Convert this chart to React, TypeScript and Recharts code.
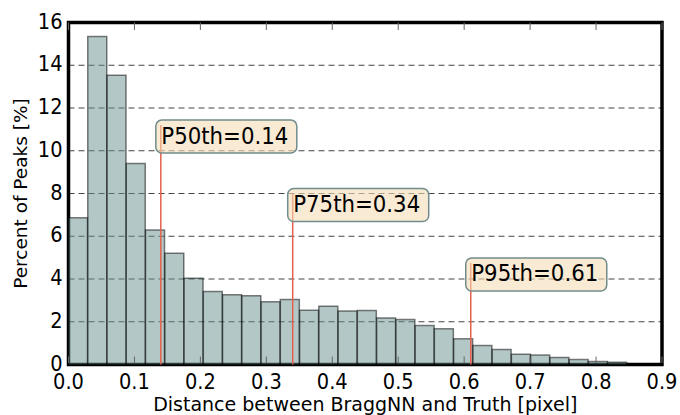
import React from "react";
import * as Recharts from "recharts";
import {
  ComposedChart,
  Bar,
  XAxis,
  YAxis,
  CartesianGrid,
  ReferenceLine,
  ReferenceDot,
} from "recharts";

// histogram bins (centre of each bin, pixel distance)
const binCenters = [
  0.0146, 0.0438, 0.073, 0.1022, 0.1314, 0.1606, 0.1898, 0.219, 0.2482, 0.2774,
  0.3066, 0.3358, 0.365, 0.3942, 0.4234, 0.4526, 0.4818, 0.511, 0.5402, 0.5694,
  0.5986, 0.6278, 0.657, 0.6862, 0.7154, 0.7446, 0.7738, 0.803, 0.8322,
];

// percent of peaks in each bin
const percentOfPeaks = [
  6.87, 15.35, 13.53, 9.4, 6.29, 5.21, 4.03, 3.41, 3.26, 3.22, 2.94, 3.04, 2.54,
  2.73, 2.5, 2.53, 2.18, 2.1, 1.82, 1.67, 1.2, 0.89, 0.7, 0.48, 0.44, 0.33, 0.23,
  0.14, 0.11,
];

const xTicks = [0, 0.1, 0.2, 0.3, 0.4, 0.5, 0.6, 0.7, 0.8, 0.9];
const yTicks = [0, 2, 4, 6, 8, 10, 12, 14, 16];

const percentileNames = ["P50th", "P75th", "P95th"];
const percentileValues = [0.14, 0.34, 0.61];
const markerHeights = [11.2, 8.0, 4.75];

const chartData = binCenters.map((x, i) => ({ x, pct: percentOfPeaks[i] }));

const FONT = "'DejaVu Sans', sans-serif";

function BottomTick(props: any) {
  const { x, y, payload } = props;
  return (
    <g>
      <line x1={x} x2={x} y1={y - 1.5} y2={y - 8} stroke="#666" strokeWidth={1} />
      <text
        transform={`translate(${x} ${y + 24}) scale(0.97 1.07)`}
        textAnchor="middle"
        fontSize={20}
        fontFamily={FONT}
        fill="#000"
      >
        {Number(payload.value).toFixed(1)}
      </text>
    </g>
  );
}

function LeftTick(props: any) {
  const { x, y, payload } = props;
  return (
    <text
      transform={`translate(${x} ${y + 6}) scale(0.97 1.07)`}
      textAnchor="end"
      fontSize={20}
      fontFamily={FONT}
      fill="#000"
    >
      {payload.value}
    </text>
  );
}

function XLabel(props: any) {
  const { x, y, width } = props.viewBox;
  return (
    <text
      x={x + width / 2}
      y={y + 46}
      textAnchor="middle"
      fontSize={19}
      fontFamily={FONT}
      fill="#000"
    >
      Distance between BraggNN and Truth [pixel]
    </text>
  );
}

function YLabel(props: any) {
  const { x, y, height } = props.viewBox;
  const cx = x + 27;
  const cy = y + height / 2;
  return (
    <text
      x={cx}
      y={cy}
      transform={`rotate(-90 ${cx} ${cy})`}
      textAnchor="middle"
      fontSize={18.5}
      fontFamily={FONT}
      fill="#000"
    >
      Percent of Peaks [%]
    </text>
  );
}

// heavy black box round the plot area (matplotlib style spines)
function PlotFrame() {
  const usePlotArea = (Recharts as any).usePlotArea || (Recharts as any).useOffset;
  const area = usePlotArea ? usePlotArea() : null;
  if (!area) return null;
  const x = area.x ?? area.left;
  const y = area.y ?? area.top;
  const w = area.width;
  const h = area.height;
  if (x == null || y == null || w == null || h == null) return null;
  return (
    <rect x={x} y={y} width={w} height={h} fill="none" stroke="#000" strokeWidth={3.5} />
  );
}

function PercentileTag(props: any) {
  const { cx, cy, text } = props;
  return (
    <g>
      <rect
        x={cx - 5}
        y={cy - 5}
        width={141}
        height={33}
        rx={6}
        fill="#f3dcb5"
        fillOpacity={0.6}
        stroke="#718c8c"
        strokeWidth={1.5}
      />
      <text
        transform={`translate(${cx + 0.5} ${cy + 18.5}) scale(1 1.1)`}
        fontSize={21.3}
        fontFamily={FONT}
        fill="#000"
      >
        {text}
      </text>
    </g>
  );
}

export default function App() {
  return (
    <div style={{ position: "absolute", left: 0, top: 0, background: "#fff" }}>
      <ComposedChart
        width={680}
        height={415}
        data={chartData}
        margin={{ top: 22.5, right: 18, bottom: 0, left: 0 }}
        barCategoryGap={0}
        barGap={0}
      >
        <CartesianGrid
          vertical={false}
          stroke="#444"
          strokeDasharray="6 4"
          strokeWidth={1}
        />
        <XAxis
          dataKey="x"
          type="number"
          domain={[0, 0.9]}
          ticks={xTicks}
          height={50.5}
          axisLine={false}
          tickLine={false}
          tickSize={0}
          tickMargin={0}
          tick={<BottomTick />}
          interval={0}
          allowDataOverflow
          label={<XLabel />}
        />
        <YAxis
          type="number"
          domain={[0, 16]}
          ticks={yTicks}
          width={68.5}
          axisLine={false}
          tickLine={false}
          tickSize={0}
          tickMargin={6}
          interval={0}
          tick={<LeftTick />}
          label={<YLabel />}
        />
        <Bar
          dataKey="pct"
          fill="#6a9090"
          fillOpacity={0.5}
          stroke="#000"
          strokeOpacity={0.5}
          strokeWidth={1.5}
          isAnimationActive={false}
        />
        {xTicks.map((t) => (
          <ReferenceLine
            key={`top-${t}`}
            segment={[
              { x: t, y: 16 },
              { x: t, y: 15.65 },
            ]}
            stroke="#666"
            strokeWidth={1}
          />
        ))}
        {percentileValues.map((v, i) => (
          <ReferenceLine
            key={`line-${i}`}
            segment={[
              { x: v, y: 0 },
              { x: v, y: markerHeights[i] },
            ]}
            stroke="#e5604a"
            strokeWidth={1.5}
          />
        ))}
        {percentileValues.map((v, i) => (
          <ReferenceDot
            key={`tag-${i}`}
            x={v}
            y={markerHeights[i]}
            r={0}
            shape={(p: any) => (
              <PercentileTag cx={p.cx} cy={p.cy} text={`${percentileNames[i]}=${v.toFixed(2)}`} />
            )}
          />
        ))}
        <PlotFrame />
      </ComposedChart>
    </div>
  );
}
